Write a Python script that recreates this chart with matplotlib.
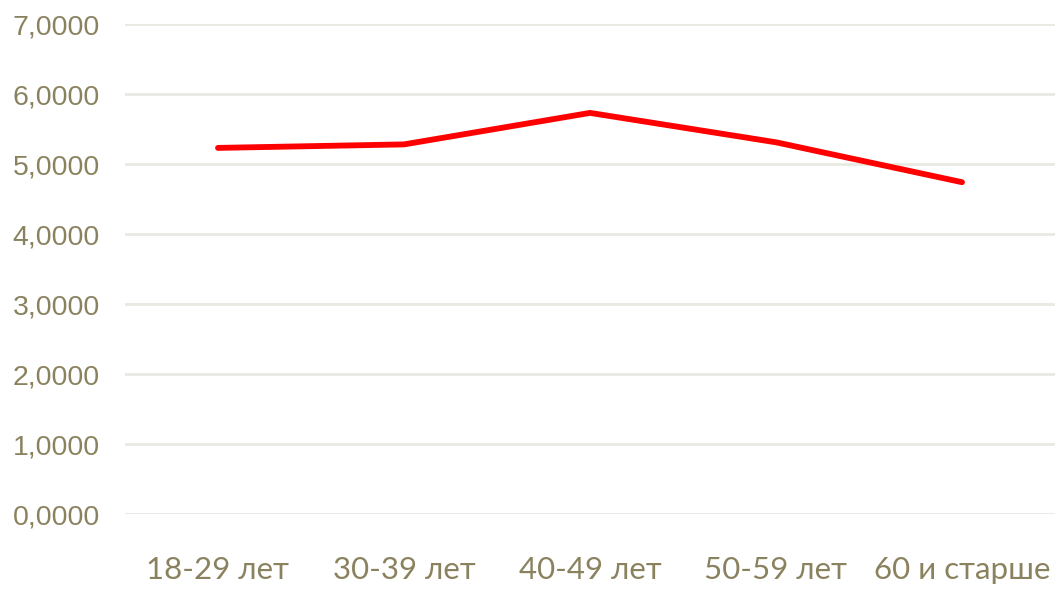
import matplotlib.pyplot as plt
from matplotlib.ticker import FuncFormatter

categories = ["18-29 лет", "30-39 лет", "40-49 лет", "50-59 лет", "60 и старше"]
values = [5.23, 5.28, 5.73, 5.31, 4.74]
y_ticks = [0, 1, 2, 3, 4, 5, 6, 7]

text_color = "#8a825f"
grid_color = "#e9e9e2"

fig = plt.figure(figsize=(10.59, 5.89), dpi=100)
ax = fig.add_axes([125 / 1059, 1 - 514 / 589, 930 / 1059, 490 / 589])

x = list(range(len(categories)))
ax.plot(x, values, color="#ff0000", lw=4.2, solid_capstyle="round",
        solid_joinstyle="round", zorder=3)

ax.set_xlim(-0.5, len(categories) - 0.5)
ax.set_ylim(0, 7)
ax.set_yticks(y_ticks)
ax.yaxis.set_major_formatter(FuncFormatter(lambda v, _: f"{v:.4f}".replace(".", ",")))
ax.set_xticks(x)
ax.set_xticklabels(categories)

ax.grid(axis="y", color=grid_color, lw=2)
ax.set_axisbelow(True)
for s in ax.spines.values():
    s.set_visible(False)

ax.tick_params(axis="y", length=0, pad=18, labelcolor=text_color, labelsize=20.5)
ax.tick_params(axis="x", length=0, pad=30, labelcolor=text_color, labelsize=22.5)
for lbl in ax.get_yticklabels():
    lbl.set_fontfamily("Liberation Sans")
for lbl in ax.get_xticklabels():
    lbl.set_fontfamily("Lato")

fig.savefig("out.png", dpi=100)
